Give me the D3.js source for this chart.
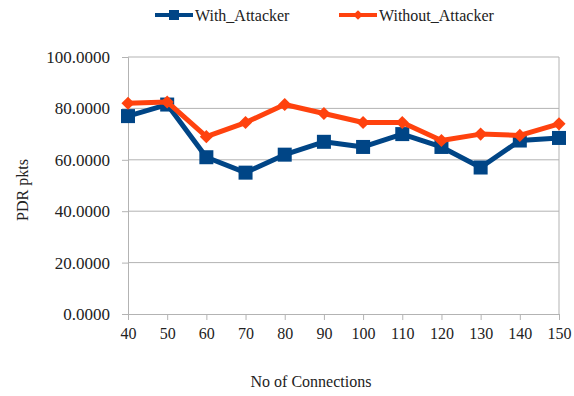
<!DOCTYPE html>
<html>
<head>
<meta charset="utf-8">
<script src="https://cdn.jsdelivr.net/npm/d3@7"></script>
</head>
<body style="margin:0">
<svg id="chart" width="574" height="396" font-family="Liberation Serif"></svg>
<script>
// Number of connections on the x axis
const connections = [40, 50, 60, 70, 80, 90, 100, 110, 120, 130, 140, 150];
// Packet delivery ratio per run
const withAttacker    = [77.0, 81.5, 61.0, 55.0, 62.0, 67.0, 65.0, 70.0, 65.0, 57.0, 67.5, 68.5];
const withoutAttacker = [82.0, 82.5, 69.0, 74.5, 81.5, 78.0, 74.5, 74.5, 67.5, 70.0, 69.5, 74.0];
const yTicks = [0, 20, 40, 60, 80, 100];
const seriesNames = ["With_Attacker", "Without_Attacker"];

const colors = { blue: "#004586", orange: "#ff420e", grid: "#b3b3b3", text: "#222" };

const svg = d3.select("#chart");
const plot = { left: 128, right: 559, top: 57, bottom: 314 };

const x = d3.scaleLinear().domain([40, 150]).range([plot.left, plot.right]);
const y = d3.scaleLinear().domain([0, 100]).range([plot.bottom, plot.top]);

// horizontal gridlines
svg.append("g").selectAll("line").data(yTicks.filter(d => d > 0)).join("line")
  .attr("x1", plot.left).attr("x2", plot.right)
  .attr("y1", d => y(d)).attr("y2", d => y(d))
  .attr("stroke", colors.grid).attr("stroke-width", 1);

// right border of the plot area
svg.append("line")
  .attr("x1", plot.right).attr("x2", plot.right).attr("y1", plot.top).attr("y2", plot.bottom)
  .attr("stroke", colors.grid).attr("stroke-width", 1);

// y axis
const yAxis = d3.axisLeft(y).tickValues(yTicks).tickFormat(d3.format(".4f"))
  .tickSize(6).tickPadding(12);
const gy = svg.append("g").attr("transform", `translate(${plot.left},0)`).call(yAxis)
  .attr("font-family", null).attr("font-size", null);
gy.select(".domain").attr("stroke", colors.grid);
gy.selectAll(".tick line").attr("stroke", colors.grid);
gy.selectAll(".tick text").attr("font-size", 17).attr("fill", colors.text);

// x axis
const xAxis = d3.axisBottom(x).tickValues(connections).tickFormat(d3.format("d"))
  .tickSize(6).tickPadding(8);
const gx = svg.append("g").attr("transform", `translate(0,${plot.bottom})`).call(xAxis)
  .attr("font-family", null).attr("font-size", null);
gx.select(".domain").attr("stroke", colors.grid);
gx.selectAll(".tick line").attr("stroke", colors.grid);
gx.selectAll(".tick text").attr("font-size", 16).attr("fill", colors.text);

// axis titles
svg.append("text").attr("x", 311).attr("y", 387).attr("text-anchor", "middle")
  .attr("font-size", 16).attr("fill", colors.text).text("No of Connections");
svg.append("text").attr("transform", "translate(28,190) rotate(-90)")
  .attr("text-anchor", "middle").attr("font-size", 16)
  .attr("fill", colors.text).text("PDR pkts");

const line = d3.line().x((d, i) => x(connections[i])).y(d => y(d));

// series: blue with squares
svg.append("path").datum(withAttacker).attr("d", line)
  .attr("fill", "none").attr("stroke", colors.blue).attr("stroke-width", 5)
  .attr("stroke-linejoin", "round");
svg.append("g").selectAll("rect").data(withAttacker).join("rect")
  .attr("x", (d, i) => x(connections[i]) - 7).attr("y", d => y(d) - 7)
  .attr("width", 14).attr("height", 14).attr("fill", colors.blue);

// series: orange with diamonds
svg.append("path").datum(withoutAttacker).attr("d", line)
  .attr("fill", "none").attr("stroke", colors.orange).attr("stroke-width", 5)
  .attr("stroke-linejoin", "round");
const diamond = d3.symbol().type(d3.symbolDiamond2).size(110);
svg.append("g").selectAll("path").data(withoutAttacker).join("path")
  .attr("d", diamond)
  .attr("transform", (d, i) => `translate(${x(connections[i])},${y(d)})`)
  .attr("fill", colors.orange);

// legend
const legend = svg.append("g");
const legendItems = [
  { name: seriesNames[0], color: colors.blue, x0: 155, marker: "square" },
  { name: seriesNames[1], color: colors.orange, x0: 339, marker: "diamond" }
];
legendItems.forEach(it => {
  const ly = 15;
  legend.append("line").attr("x1", it.x0).attr("x2", it.x0 + 38)
    .attr("y1", ly).attr("y2", ly).attr("stroke", it.color).attr("stroke-width", 4);
  if (it.marker === "square") {
    legend.append("rect").attr("x", it.x0 + 19 - 5).attr("y", ly - 5)
      .attr("width", 10).attr("height", 10).attr("fill", it.color);
  } else {
    legend.append("path").attr("d", d3.symbol().type(d3.symbolDiamond2).size(60))
      .attr("transform", `translate(${it.x0 + 19},${ly})`).attr("fill", it.color);
  }
  legend.append("text").attr("x", it.x0 + 40).attr("y", ly + 5.5)
    .attr("font-size", 16).attr("fill", colors.text).text(it.name);
});
</script>
</body>
</html>
